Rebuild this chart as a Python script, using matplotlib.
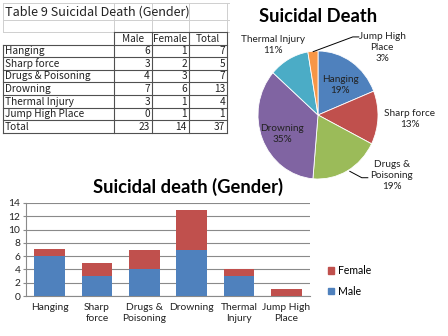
import matplotlib
matplotlib.use('Agg')
import matplotlib.pyplot as plt
from matplotlib.patches import Patch

# data
causes = ['Hanging', 'Sharp force', 'Drugs & Poisoning', 'Drowning',
          'Thermal Injury', 'Jump High Place']
male = [6, 3, 4, 7, 3, 0]
female = [1, 2, 3, 6, 1, 1]
pie_pct = [19, 13, 19, 35, 11, 3]   # as printed on the pie
pie_names = ['Hanging', 'Sharp force', 'Drugs &\nPoisoning', 'Drowning',
             'Thermal Injury', 'Jump High\nPlace']
bar_ticks = ['Hanging', 'Sharp\nforce', 'Drugs &\nPoisoning', 'Drowning',
             'Thermal\nInjury', 'Jump High\nPlace']

total = [m + f for m, f in zip(male, female)]

colors = ['#4F81BD', '#C0504D', '#9BBB59', '#8064A2', '#4BACC6', '#F79646']
blue, red = '#4F81BD', '#C0504D'
chart_font = ['Lato', 'DejaVu Sans']
table_font = ['Noto Sans CJK JP', 'DejaVu Sans']

fig = plt.figure(figsize=(4.48, 3.36), dpi=100)
fig.patch.set_facecolor('white')

# ---- spreadsheet table (pixel coordinates) ----
bg = fig.add_axes([0, 0, 1, 1])
bg.set_xlim(0, 448)
bg.set_ylim(336, 0)
bg.axis('off')

col_x = [3, 114, 152, 189, 227]
row_y = [3, 20, 32, 44.5, 57, 69.5, 82, 95, 107.5, 120, 133]
light = '#cfcfcf'
dark = '#505050'

for y in row_y[:3]:
    bg.plot([3, 229], [y, y], color=light, lw=0.7)
for x in col_x:
    bg.plot([x, x], [3, 32], color=light, lw=0.7)
bg.plot([114, 227], [32, 32], color=dark, lw=0.8)
for y in row_y[3:]:
    bg.plot([3, 227], [y, y], color=dark, lw=0.8)
bg.plot([3, 3], [row_y[3], row_y[-1]], color=dark, lw=0.8)
for x in col_x[1:]:
    bg.plot([x, x], [32, row_y[-1]], color=dark, lw=0.8)

bg.text(5, 12, 'Table 9 Suicidal Death (Gender)', fontsize=9.1,
        family=table_font, va='center', ha='left', color='#222222')
for i, h in enumerate(['Male', 'Female', 'Total']):
    bg.text((col_x[i + 1] + col_x[i + 2]) / 2, 38.5, h, fontsize=7.2,
            family=table_font, ha='center', va='center', color='#222222')

rows = list(zip(causes, male, female, total))
rows.append(('Total', sum(male), sum(female), sum(total)))
for r, (name, m, f, t) in enumerate(rows):
    yc = (row_y[3 + r] + row_y[4 + r]) / 2 + 0.3
    bg.text(5, yc, name, fontsize=7.3, family=table_font, ha='left',
            va='center', color='#222222')
    for c, v in enumerate([m, f, t]):
        bg.text(col_x[c + 2] - 2, yc, str(v), fontsize=7.3, family=table_font,
                ha='right', va='center', color='#222222')

# ---- pie chart ----
ax = fig.add_axes([258 / 448, 1 - 179 / 336, 120 / 448, 128 / 336])
ax.pie(total, colors=colors, startangle=90, counterclock=False,
       wedgeprops=dict(edgecolor='white', linewidth=0.6))
ax.set_aspect('auto')
ax.set_xlim(-1, 1)
ax.set_ylim(-1, 1)

label_pos = [(0.37, 0.47), (1.53, -0.06), (1.23, -0.94), (-0.6, -0.3),
             (-0.75, 1.09), (1.07, 1.05)]
for name, p, (lx, ly) in zip(pie_names, pie_pct, label_pos):
    ax.text(lx, ly, '%s\n%d%%' % (name, p), fontsize=7.2, family=chart_font,
            ha='center', va='center', color='#222222', linespacing=1.3,
            clip_on=False)
# leader lines
ax.plot([-0.08, 0.58, 0.68], [0.99, 1.22, 1.22], color='black', lw=0.7,
        clip_on=False)
ax.plot([0.53, 0.73, 0.83], [-0.88, -0.98, -0.98], color='black', lw=0.7,
        clip_on=False)

fig.text(318 / 448, 1 - 16 / 336, 'Suicidal Death', fontsize=13.2,
         fontweight='bold', family=chart_font, ha='center', va='center')

# ---- stacked bar chart ----
ax2 = fig.add_axes([26 / 448, 1 - 296 / 336, 284 / 448, 93 / 336])
x = range(len(causes))
ax2.bar(x, male, width=0.65, color=blue, label='Male', zorder=3)
ax2.bar(x, female, width=0.65, bottom=male, color=red, label='Female',
        zorder=3)
ax2.set_xlim(-0.5, len(causes) - 0.5)
ax2.set_ylim(0, 14)
ax2.set_yticks(range(0, 15, 2))
ax2.yaxis.grid(True, color='#8a8a8a', lw=0.8, zorder=0)
ax2.set_xticks(list(x))
ax2.set_xticklabels(bar_ticks, fontsize=7.4, family=chart_font,
                    linespacing=1.3)
for lab in ax2.get_yticklabels():
    lab.set_fontsize(7.4)
    lab.set_family(chart_font)
ax2.tick_params(axis='x', length=0, pad=5, colors='#222222')
ax2.tick_params(axis='y', length=2, pad=2, colors='#222222', color='#8a8a8a')
for s in ['top', 'right']:
    ax2.spines[s].set_visible(False)
for s in ['left', 'bottom']:
    ax2.spines[s].set_color('#8a8a8a')
    ax2.spines[s].set_linewidth(0.8)

fig.text(188 / 448, 1 - 187 / 336, 'Suicidal death (Gender)', fontsize=13.2,
         fontweight='bold', family=chart_font, ha='center', va='center')

handles = [Patch(color=red, label='Female'), Patch(color=blue, label='Male')]
fig.legend(handles=handles, loc='center left',
           bbox_to_anchor=(318 / 448, 1 - 281 / 336), frameon=False,
           prop=dict(family=chart_font, size=7.6), handlelength=0.6,
           handleheight=0.6, handletextpad=0.4, labelspacing=0.9)

fig.savefig('out.png', dpi=100)
